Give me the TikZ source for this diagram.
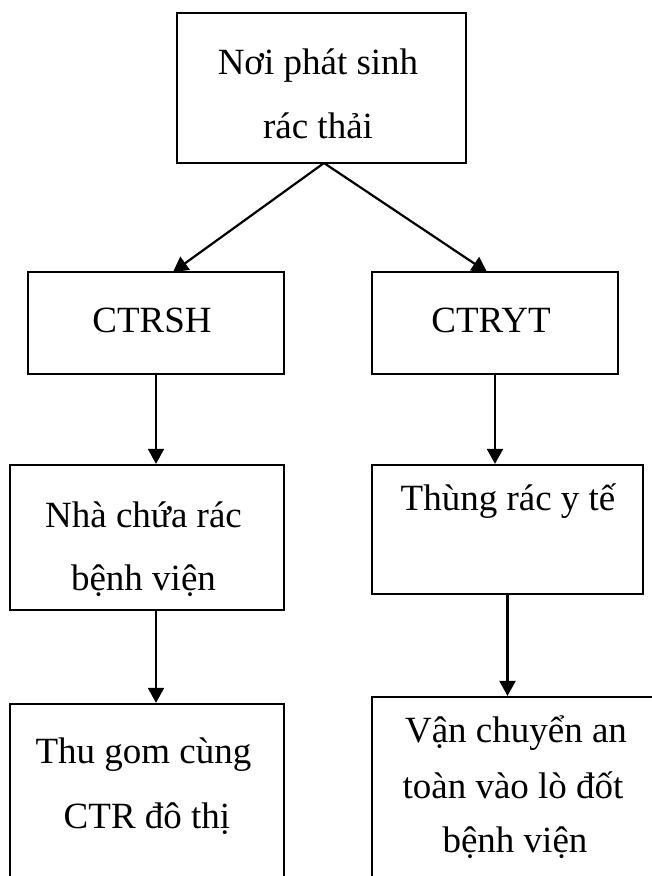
\documentclass[tikz,border=0pt]{standalone}
\usepackage{fontspec}
\setmainfont{Liberation Serif}
\usetikzlibrary{arrows.meta}
\begin{document}
\begin{tikzpicture}[x=1pt,y=-1pt,
  box/.style={draw, line width=2.2pt, inner sep=0pt, anchor=center},
  lbl/.style={anchor=base, inner sep=0pt, font=\fontsize{37}{44}\selectfont},
  arr/.style={line width=2.2pt, -{Triangle[length=15pt,width=16pt]}}]
\useasboundingbox (0,0) rectangle (651,876);

% boxes
\node[box, minimum width=289pt, minimum height=150pt] (top)    at (321.5,88)  {};
\node[box, minimum width=256pt, minimum height=102pt] (ctrsh)  at (156,323)   {};
\node[box, minimum width=246pt, minimum height=102pt] (ctryt)  at (495,323)   {};
\node[box, minimum width=274pt, minimum height=145pt] (nha)    at (147,537.5) {};
\node[box, minimum width=271pt, minimum height=129pt] (thung)  at (507.5,529.5) {};
\node[box, minimum width=274pt, minimum height=200pt] (thugom) at (147,804)   {};
\node[box, minimum width=320pt, minimum height=210pt] (van)    at (532,802)   {};

% labels
\node[lbl] (t1) at (318,74)  {Nơi phát sinh};
\node[lbl] (t2) at (318,138) {rác thải};
\node[lbl] (t3) at (152,332) {CTRSH};
\node[lbl] (t4) at (491,332) {CTRYT};
\node[lbl] (t5) at (143.5,527) {Nhà chứa rác};
\node[lbl] (t6) at (143.5,590) {bệnh viện};
\node[lbl] (t7) at (508,510) {Thùng rác y tế};
\node[lbl] (t8) at (143.5,763) {Thu gom cùng};
\node[lbl] (t9) at (147,828) {CTR đô thị};
\node[lbl] (t10) at (516,742) {Vận chuyển an};
\node[lbl] (t11) at (513,798) {toàn vào lò đốt};
\node[lbl] (t12) at (515,852) {bệnh viện};

% arrow ends on the second-row boxes
\coordinate (split) at (324,163);
\coordinate (inL) at (173,272);
\coordinate (inR) at (487,272);

% connectors
\draw[arr] (split) -- (inL);
\draw[arr] (split) -- (inR);
\draw[arr] (ctrsh.south) -- (ctrsh.south |- nha.north);
\draw[arr] (ctryt.south) -- (ctryt.south |- thung.north);
\draw[arr] (ctrsh.south |- nha.south) -- (ctrsh.south |- thugom.north);
\draw[arr] (thung.south) -- (thung.south |- van.north);
\end{tikzpicture}
\end{document}
